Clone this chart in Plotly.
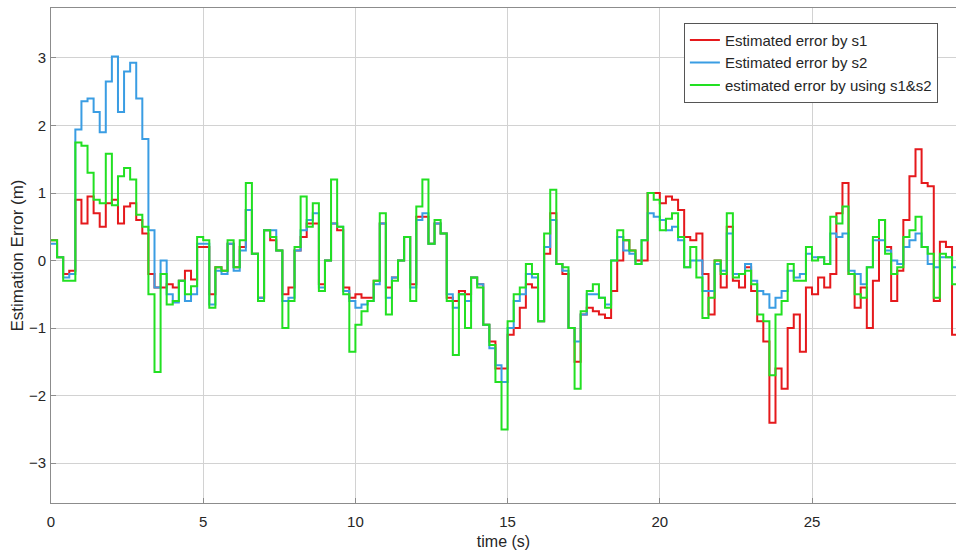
import plotly.graph_objects as go

# sampling: one value every 0.2 s from 0 to 29.8 s
dt = 0.2
time = [round(i * dt, 1) for i in range(151)]  # 151 edges (last = 30 s)

err_s1 = [
    0.3, 0.05, -0.2, -0.15, 0.9, 0.55, 0.95, 0.7, 0.5, 0.85, 0.9, 0.55, 0.8, 0.85, 0.6, 0.4, -0.2, -0.4, -0.4, -0.35, -0.4, -0.3, -0.15, -0.28, 0.2,
    0.2, -0.5, -0.1, -0.15, 0.25, -0.1, 0.2, 0.75, 0.1, -0.55, 0.45, 0.3, 0.15, -0.5, -0.4, 0.15, 0.35, 0.55, 0.55, -0.35, 0.0, 0.55, 0.45, -0.4, -0.55,
    -0.5, -0.55, -0.55, -0.3, 0.55, -0.4, -0.25, 0.0, 0.35, -0.35, 0.65, 0.65, 0.25, 0.55, 0.4, -0.55, -0.6, -0.45, -0.5, -0.25, -0.35, -0.95, -1.2, -1.6, -1.6,
    -1.1, -1.0, -0.7, -0.35, -0.4, -0.9, 0.1, 0.7, -0.05, -0.2, -1.0, -1.5, -0.8, -0.7, -0.75, -0.8, -0.85, -0.45, 0.0, 0.3, 0.15, 0.0, 0.0, 1.0, 1.0,
    0.85, 0.95, 0.9, 0.75, 0.35, 0.3, 0.4, -0.2, -0.8, 0.0, -0.4, 0.5, -0.3, -0.4, -0.1, -0.45, -0.9, -1.2, -2.4, -1.6, -1.9, -1.0, -0.8, -1.35, -0.4,
    -0.5, -0.25, -0.4, -0.2, 0.7, 1.15, -0.2, -0.7, -0.4, -1.0, -0.3, 0.6, 0.2, -0.6, -0.15, 0.6, 1.25, 1.65, 1.15, 1.1, -0.6, 0.28, 0.2, -1.1, -0.75,
]

err_s2 = [
    0.25, 0.05, -0.25, -0.2, 1.94, 2.36, 2.4, 2.2, 1.9, 2.65, 3.02, 2.2, 2.8, 2.93, 2.4, 1.8, 0.45, -0.4, 0.0, -0.5, -0.62, -0.3, -0.6, -0.5, 0.25,
    0.25, -0.65, -0.15, -0.2, 0.25, -0.15, 0.15, 0.75, 0.1, -0.55, 0.45, 0.45, 0.15, -0.6, -0.55, 0.15, 0.45, 0.6, 0.7, -0.4, 0.0, 0.55, 0.5, -0.45, -0.6,
    -0.7, -0.65, -0.6, -0.35, 0.55, -0.55, -0.25, 0.0, 0.35, -0.4, 0.6, 0.7, 0.25, 0.55, 0.4, -0.5, -0.7, -0.5, -0.6, -0.25, -0.35, -0.95, -1.3, -1.55, -1.8,
    -1.0, -0.6, -0.5, -0.2, -0.25, -0.9, 0.2, 0.6, -0.05, -0.15, -1.0, -1.2, -0.8, -0.5, -0.5, -0.55, -0.65, 0.0, 0.35, 0.15, 0.1, -0.05, 0.3, 0.7, 0.65,
    0.6, 0.45, 0.5, 0.3, -0.1, 0.0, 0.0, -0.45, -0.45, -0.05, -0.15, 0.4, -0.2, -0.2, -0.05, -0.3, -0.45, -0.5, -0.7, -0.55, -0.45, -0.15, -0.25, -0.2, 0.1,
    0.05, 0.05, -0.05, 0.4, 0.35, 0.4, -0.15, -0.2, -0.35, -0.1, 0.3, 0.3, 0.15, 0.0, -0.05, 0.2, 0.3, 0.4, 0.2, -0.05, -0.1, 0.05, 0.05, -0.1, 0.0,
]

err_fused = [
    0.3, 0.05, -0.3, -0.3, 1.75, 1.7, 1.3, 0.9, 0.85, 1.58, 0.82, 1.25, 1.37, 1.2, 0.68, 0.5, -0.5, -1.65, -0.2, -0.65, -0.6, -0.3, -0.5, -0.38, 0.35,
    0.3, -0.7, -0.1, -0.15, 0.3, -0.1, 0.3, 1.15, 0.1, -0.6, 0.45, 0.35, 0.15, -1.0, -0.6, 0.2, 0.95, 0.5, 0.85, -0.45, 0.0, 1.2, 0.5, -0.5, -1.35,
    -0.95, -0.75, -0.6, -0.3, 0.7, -0.8, -0.3, 0.0, 0.35, -0.6, 0.8, 1.2, 0.25, 0.6, 0.4, -0.6, -1.4, -0.5, -1.0, -0.25, -0.4, -0.95, -1.25, -1.8, -2.5,
    -0.9, -0.5, -0.4, -0.05, -0.2, -0.9, 0.4, 1.05, -0.05, -0.1, -1.0, -1.9, -0.75, -0.45, -0.35, -0.55, -0.7, 0.0, 0.45, 0.3, 0.15, -0.05, 0.3, 1.0, 0.9,
    0.45, 0.62, 0.7, 0.35, -0.1, 0.2, -0.25, -0.85, -0.55, 0.0, -0.2, 0.7, -0.25, -0.2, -0.15, -0.35, -0.8, -0.9, -1.7, -0.8, -0.6, -0.05, -0.3, -0.3, 0.2,
    0.0, 0.05, -0.05, 0.65, 0.55, 0.8, -0.2, -0.5, -0.55, -0.1, 0.35, 0.6, 0.1, -0.2, -0.1, 0.35, 0.45, 0.65, 0.2, 0.1, -0.55, 0.1, 0.05, -0.35, 0.0,
]

series_names = ["Estimated error by s1", "Estimated error by s2", "estimated error by using s1&s2"]
x_ticks = [0, 5, 10, 15, 20, 25, 30]
y_ticks = [-3, -2, -1, 0, 1, 2, 3]

colors = ["#E5191C", "#3A9DE3", "#22E022"]

fig = go.Figure()
for name, vals, col in zip(series_names, [err_s1, err_s2, err_fused], colors):
    fig.add_trace(go.Scatter(
        x=time, y=vals + [vals[-1]], name=name, mode="lines",
        line=dict(color=col, width=2, shape="hv"),
    ))

axis_col = "#8c8c8c"
grid_col = "#d2d2d2"
font_fam = "Liberation Sans, Arial, sans-serif"

fig.update_layout(
    width=956, height=552,
    margin=dict(l=51, r=0, t=8, b=49),
    paper_bgcolor="white", plot_bgcolor="white",
    font=dict(family=font_fam, size=15, color="#262626"),
    showlegend=True,
    legend=dict(
        x=0.980, y=0.970, xanchor="right", yanchor="top",
        bgcolor="white", bordercolor="#555555", borderwidth=1,
        font=dict(size=15, color="#262626"),
        tracegroupgap=0, itemwidth=30,
    ),
    xaxis=dict(
        range=[0, 29.73], tickvals=x_ticks, ticks="inside", ticklen=5,
        tickcolor=axis_col, showline=True, linecolor=axis_col, linewidth=1,
        mirror=True, showgrid=True, gridcolor=grid_col, gridwidth=1,
        zeroline=False, ticklabelstandoff=5,
        tickfont=dict(size=15),
        title=dict(text="time (s)", font=dict(size=16), standoff=6),
    ),
    yaxis=dict(
        range=[-3.59, 3.74], tickvals=y_ticks, ticks="inside", ticklen=5,
        tickcolor=axis_col, showline=True, linecolor=axis_col, linewidth=1,
        mirror=False, showgrid=True, gridcolor=grid_col, gridwidth=1,
        zeroline=False, ticklabelstandoff=1,
        tickfont=dict(size=15),
        title=dict(text="Estimation Error (m)", font=dict(size=17), standoff=0),
    ),
)

fig.write_html("out.html")
